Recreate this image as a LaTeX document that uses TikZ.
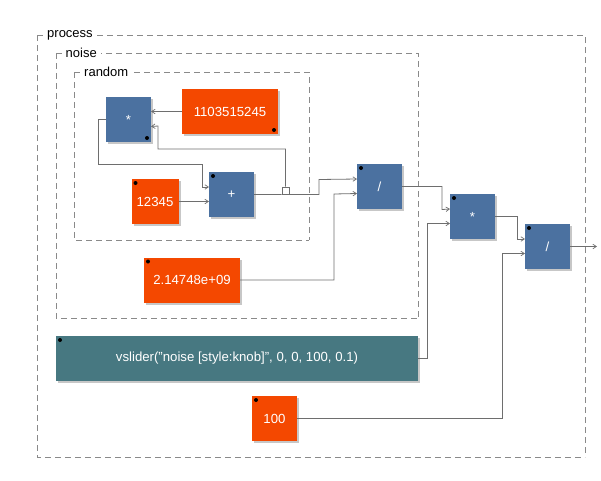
\documentclass[tikz,border=0pt]{standalone}
\usepackage{fontspec}
\setmainfont{Liberation Sans}
\usetikzlibrary{arrows.meta,shadows,calc}
\definecolor{fblue}{HTML}{4B71A0}
\definecolor{forange}{HTML}{F44800}
\definecolor{fteal}{HTML}{477881}
\definecolor{fline}{HTML}{6E6E6E}
\definecolor{fgroup}{HTML}{8A8A8A}
\begin{document}
\begin{tikzpicture}[x=1pt,y=-1pt,
  blk/.style={inner sep=0pt, outer sep=0pt, minimum height=45pt, minimum width=45pt,
    text=white, font=\fontsize{13.2}{15}\selectfont,
    general shadow={fill=black!22, shadow xshift=2pt, shadow yshift=-2pt}},
  opblk/.style={blk, fill=fblue},
  numblk/.style={blk, fill=forange},
  uiblk/.style={blk, fill=fteal},
  wire/.style={draw=fline, line width=0.8pt},
  arr/.style={wire, -{Straight Barb[length=3.5pt,width=4.5pt,line width=0.7pt]}},
  grp/.style={draw=fgroup, line width=0.8pt, dash pattern=on 6pt off 4pt},
  grplabel/.style={fill=white, inner xsep=4pt, inner ysep=1pt, anchor=west, font=\fontsize{13}{15}\selectfont},
  dotmark/.style={fill=black}
]
\useasboundingbox (0,0) rectangle (601,480);

% groups
\draw[grp] (37,35) -- (585,35) -- (585,457);
\draw[grp] (37,35) -- (37,457) -- (585,457);
\node[grplabel] (lprocess) at (43,35) {process};
\draw[grp] (56,53) -- (418,53) -- (418,318);
\draw[grp] (56,53) -- (56,318) -- (418,318);
\node[grplabel] (lnoise) at (61.5,53) {noise};
\draw[grp] (74,72) -- (309,72) -- (309,240);
\draw[grp] (74,72) -- (74,240) -- (309,240);
\node[grplabel] (lrandom) at (80,72) {random};

% blocks
\node[opblk] (m1) at (128.5,119.5) {*};
\node[numblk, minimum width=96pt] (k1) at (230,111.5) {1103515245};
\node[numblk, minimum width=47pt] (k2) at (155,201.5) {12345};
\node[opblk] (add) at (231.5,194.5) {+};
\node[opblk] (d1) at (379.5,186.5) {/};
\node[numblk, minimum width=96pt] (big) at (192,280) {2.14748e+09};
\node[opblk] (m2) at (472.5,216.5) {*};
\node[opblk] (d2) at (547.5,246.5) {/};
\node[uiblk, minimum width=362pt] (vs) at (237,358.5) {vslider("noise [style:knob]", 0, 0, 100, 0.1)};
\node[numblk] (c100) at (274.5,418.5) {100};

% dots
\foreach \b in {k2,add,d1,big,m2,d2,vs,c100}{
  \fill[dotmark] ($(\b.north west)+(4,4)$) circle (2pt);
}
\foreach \b in {m1,k1}{
  \fill[dotmark] ($(\b.south east)+(-4,-4)$) circle (2pt);
}

% input points
\coordinate (m1i1) at ($(m1.north east)+(0,15)$);
\coordinate (m1i2) at ($(m1.north east)+(0,29.5)$);
\foreach \b in {add,d1,m2,d2}{
  \coordinate (\b i1) at ($(\b.north west)+(0,15)$);
  \coordinate (\b i2) at ($(\b.north west)+(0,29.5)$);
}

% connections
\draw[arr] (k1.west) -- (k1.west -| m1i1);
\node[draw=fline, fill=white, line width=0.8pt, minimum size=7pt, inner sep=0pt] (sq) at (285.5,190.5) {};
\draw[arr] (sq.north) -- (285.5,149) -- (158,149) -- (158,126) -- (m1i2);
\draw[arr] (m1.west) -- (98,119.5) -- (98,164) -- (202,164) -- (202,187) -- (addi1);
\draw[arr] (k2.east) -- (addi2);
\draw[wire] (add.east) -- (sq.south west);
\draw[arr] (sq.south east) -- (319,194.5) -- (319,179.5) -- (d1i1);
\draw[arr] (big.east) -- (334,280) -- (334,194) -- (d1i2);
\draw[arr] (d1.east) -- (442,186.5) -- (442,209.5) -- (m2i1);
\draw[arr] (vs.east) -- (427,358.5) -- (427,223.5) -- (m2i2);
\draw[arr] (m2.east) -- (517,216.5) -- (517,239) -- (d2i1);
\draw[arr] (c100.east) -- (502,418.5) -- (502,253.5) -- (d2i2);
\coordinate (out) at (597,246.5);
\draw[arr] (d2.east) -- (out);
\end{tikzpicture}
\end{document}
